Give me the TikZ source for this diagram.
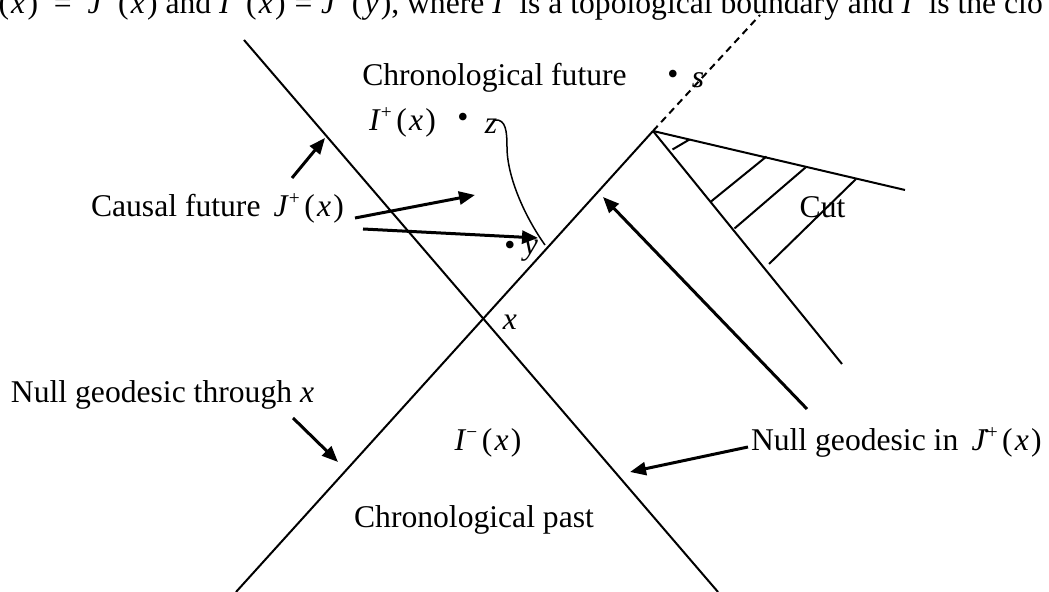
\documentclass[tikz,border=0pt]{standalone}
\usepackage{fontspec}
\setmainfont{Liberation Serif}
\usetikzlibrary{arrows.meta}

\newcommand{\sups}[1]{\raisebox{0.38em}{\fontsize{11}{11}\selectfont #1}\kern0.14em}
\newcommand{\pr}[1]{(\kern0.07em\textit{#1}\kern0.07em)}
\newcommand{\setfn}[3]{\textit{#1}\sups{#2}\pr{#3}}

\begin{document}
\begin{tikzpicture}[line width=0.4mm,
  lbl/.style={font=\fontsize{18}{21}\selectfont,inner sep=0pt},
  arr/.style={line width=0.6mm,-{Triangle[length=3.2mm,width=2.6mm]}}]

\useasboundingbox (0,0) rectangle (20.98,11.84);

% caption, cut off by the page
\node[lbl,anchor=base west] (caption) at (-0.05,11.56) {\pr{x}\enspace=\enspace\setfn{J}{+}{x} and \setfn{I}{+}{x}\;=\;\setfn{J}{−}{y}, where \textit{I}\sups{+} is a topological boundary and \textit{I}\sups{+} is the clo};

% light cone of x
\coordinate (ltop) at (4.88,11.04);
\coordinate (lbot) at (14.36,0);
\coordinate (rbot) at (4.72,0);
\coordinate (P) at (13.06,9.22);
\coordinate (ptop) at (15.20,11.54);
\draw (ltop) -- (lbot);
\draw (rbot) -- (P);
\draw[dash pattern=on 1.4mm off 1mm] (P) -- (ptop);

% the cut
\coordinate (cutend) at (18.10,8.04);
\coordinate (gend) at (16.84,4.56);
\draw (P) -- (cutend);
\draw (P) -- (gend);
\draw (13.45,8.85) -- (13.79,9.05);
\draw (14.22,7.81) -- (15.33,8.71);
\draw (14.69,7.27) -- (16.11,8.49);
\draw (15.38,6.56) -- (17.12,8.26);
\node[lbl] (cut) at (16.45,7.70) {Cut};

% labels
\node[lbl] (chf) at (9.89,10.28) {Chronological future};
\node[lbl] (sdot) at (13.46,10.30) {\textbullet};
\node[lbl] (s) at (13.96,10.24) {\textit{s}};
\node[lbl] (ipx) at (8.05,9.40) {\setfn{I}{+}{x}};
\node[lbl] (zdot) at (9.26,9.44) {\textbullet};
\node[lbl] (z) at (9.82,9.32) {\textit{z}};
\node[lbl] (ydot) at (10.20,6.88) {\textbullet};
\node[lbl] (y) at (10.62,6.82) {\textit{y}};
\node[lbl] (x) at (10.20,5.40) {\textit{x}};
\node[lbl,anchor=west] (cfut) at (1.80,7.68) {Causal future\, \setfn{J}{+}{x}};
\node[lbl,anchor=west] (ngx) at (0.20,3.94) {Null geodesic through \textit{x}};
\node[lbl] (imx) at (9.76,2.98) {\setfn{I}{−}{x}};
\node[lbl] (chp) at (9.48,1.44) {Chronological past};
\node[lbl,anchor=west] (ngj) at (15.00,3.00) {Null geodesic in\, \.{\textit{J}}\sups{+}\pr{x}};

% curve from z to y
\coordinate (zc) at (9.90,9.44);
\coordinate (yc) at (10.90,6.94);
\draw[line width=0.3mm] (zc) .. controls (10.12,9.46) and (10.14,9.20) .. (10.14,8.90)
  .. controls (10.14,8.30) and (10.50,7.50) .. (yc);

% arrows
\coordinate (a1s) at (5.84,8.28);
\coordinate (a1e) at (6.50,9.08);
\coordinate (a2s) at (7.10,7.48);
\coordinate (a2e) at (9.50,7.94);
\coordinate (a3s) at (7.26,7.26);
\coordinate (a3e) at (10.76,7.08);
\coordinate (a4s) at (16.14,3.66);
\coordinate (a4e) at (12.06,7.90);
\coordinate (a5s) at (5.86,3.48);
\coordinate (a5e) at (6.76,2.60);
\coordinate (a6s) at (14.96,2.90);
\coordinate (a6e) at (12.60,2.40);
\draw[arr] (a1s) -- (a1e);
\draw[arr] (a2s) -- (a2e);
\draw[arr] (a3s) -- (a3e);
\draw[arr] (a4s) -- (a4e);
\draw[arr] (a5s) -- (a5e);
\draw[arr] (a6s) -- (a6e);
\end{tikzpicture}
\end{document}
